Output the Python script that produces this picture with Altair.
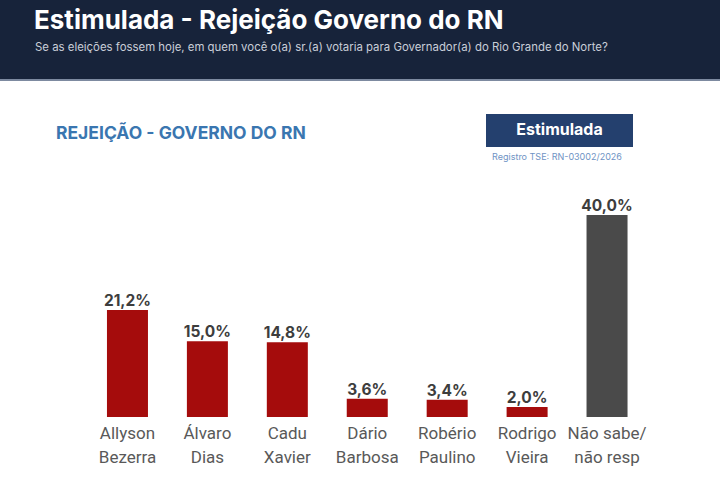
import altair as alt
import pandas as pd

categories = ["Allyson\nBezerra", "Álvaro\nDias", "Cadu\nXavier", "Dário\nBarbosa",
              "Robério\nPaulino", "Rodrigo\nVieira", "Não sabe/\nnão resp"]
values = [21.2, 15.0, 14.8, 3.6, 3.4, 2.0, 40.0]

title_text = "Estimulada - Rejeição Governo do RN"
subtitle_text = "Se as eleições fossem hoje, em quem você o(a) sr.(a) votaria para Governador(a) do Rio Grande do Norte?"
heading_text = "REJEIÇÃO - GOVERNO DO RN"
badge_text = "Estimulada"
registro_text = "Registro TSE: RN-03002/2026"

df = pd.DataFrame({"cat": categories, "v": values})
one = pd.DataFrame({"k": [0]})

W, H = 720, 477

xs = alt.X("cat:N", sort=None, axis=None,
           scale=alt.Scale(type="band", range=[87.5, 647], paddingInner=0.487, paddingOuter=0.2435))
ys = alt.Y("v:Q", axis=None, scale=alt.Scale(domain=[0, 40], range=[417, 215]))

base = alt.Chart(df)

bars = base.mark_bar().encode(
    x=xs, y=ys,
    color=alt.condition("indexof(datum.cat, 'Não sabe') >= 0", alt.value("#4a4a4a"), alt.value("#a50c0c")),
)

vlabels = base.transform_calculate(
    lab="replace(format(datum.v, '.1f'), '.', ',') + '%'"
).mark_text(font="Inter", fontWeight="bold", fontSize=15.5, color="#3d3d3d", baseline="alphabetic", dy=-4).encode(
    x=xs, y=ys, text="lab:N"
)

clabels = base.mark_text(font="Roboto", fontSize=17, color="#595959", baseline="top",
                         lineBreak="\n", lineHeight=24).encode(
    x=xs, y=alt.value(426), text="cat:N"
)

header = alt.Chart(one).mark_rect(color="#17233a").encode(
    x=alt.value(0), x2=alt.value(W), y=alt.value(0), y2=alt.value(79))
header_line = alt.Chart(one).mark_rect(color="#7d8aa0").encode(
    x=alt.value(0), x2=alt.value(W), y=alt.value(79), y2=alt.value(81))

title = alt.Chart(one).mark_text(text=title_text, font="Inter", fontWeight="bold", fontSize=26,
                                 color="#ffffff", align="left", baseline="alphabetic").encode(
    x=alt.value(34), y=alt.value(29))
subtitle = alt.Chart(one).mark_text(text=subtitle_text, font="Inter", fontSize=11.4,
                                    color="#c9ced8", align="left", baseline="middle").encode(
    x=alt.value(35), y=alt.value(48))

heading = alt.Chart(one).mark_text(text=heading_text, font="Inter", fontWeight="bold", fontSize=17.5,
                                   color="#3a76b0", align="left", baseline="middle").encode(
    x=alt.value(56), y=alt.value(134))

badge = alt.Chart(one).mark_rect(color="#24406e").encode(
    x=alt.value(486), x2=alt.value(633), y=alt.value(114), y2=alt.value(147))
badge_t = alt.Chart(one).mark_text(text=badge_text, font="Inter", fontWeight="bold", fontSize=16,
                                   color="#ffffff", align="center", baseline="middle").encode(
    x=alt.value(559.5), y=alt.value(130))
registro = alt.Chart(one).mark_text(text=registro_text, font="Inter", fontSize=9,
                                    color="#6f93c4", align="center", baseline="middle").encode(
    x=alt.value(557), y=alt.value(157))

chart = alt.layer(header, header_line, title, subtitle, heading, badge, badge_t, registro,
                  bars, vlabels, clabels).properties(
    width=W, height=H, padding=0, autosize=alt.AutoSizeParams(type="none"),
    background="#ffffff"
).configure_view(stroke=None)

chart.save("out.html", embed_options={"renderer": "svg", "actions": False})
